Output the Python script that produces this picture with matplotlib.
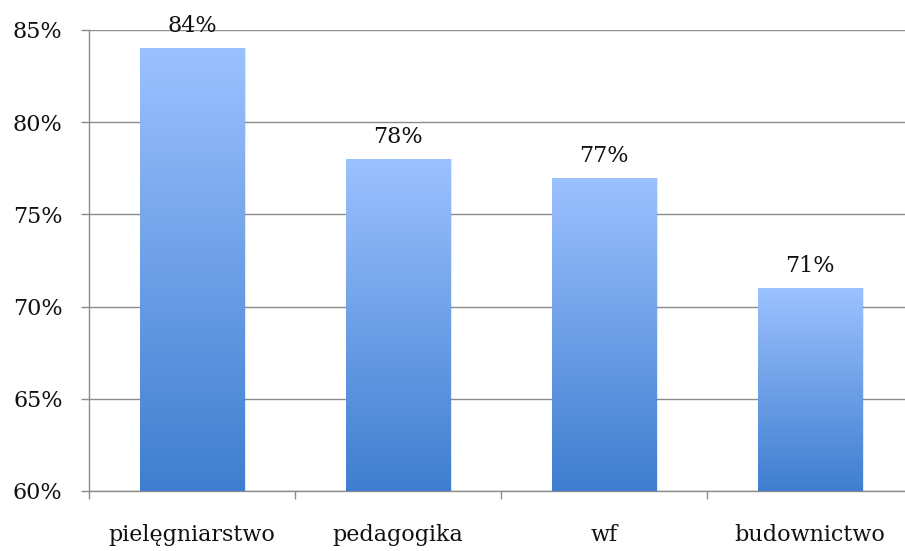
import numpy as np
import matplotlib
matplotlib.use("Agg")
import matplotlib.pyplot as plt
from matplotlib.colors import LinearSegmentedColormap
from matplotlib.ticker import FixedLocator

categories = ["pielęgniarstwo", "pedagogika", "wf", "budownictwo"]
values = [84, 78, 77, 71]
y_ticks = [60, 65, 70, 75, 80, 85]
y_tick_labels = ["60%", "65%", "70%", "75%", "80%", "85%"]

plt.rcParams["font.family"] = ["DejaVu Serif"]
FS = 16

W, H = 905, 551
fig = plt.figure(figsize=(W / 100, H / 100), dpi=100)
ax = fig.add_axes([89 / W, 1 - 491 / H, 824 / W, 461 / H])

x = np.arange(len(categories))
ymin, ymax = 60, 85

grad = LinearSegmentedColormap.from_list("bar", ["#3f7ecf", "#9cc1ff"])
gradient = np.linspace(0, 1, 256).reshape(-1, 1)

bars = ax.bar(x, [v - ymin for v in values], bottom=ymin, width=0.505,
              color="none", edgecolor="none", zorder=3)
for rect, v in zip(bars, values):
    x0, w = rect.get_x(), rect.get_width()
    # soft shadow along the right edge
    for i, a in enumerate([0.10, 0.06, 0.03]):
        ax.add_patch(plt.Rectangle((x0 + w, ymin), 0.004 * (i + 1), v - ymin,
                                   facecolor="#000000", alpha=a,
                                   edgecolor="none", zorder=2.5))
    im = ax.imshow(gradient, cmap=grad, origin="lower", aspect="auto",
                   extent=(x0, x0 + w, ymin, v), zorder=3,
                   interpolation="bilinear")
    im.set_clip_path(rect)
    ax.annotate(f"{v}%", (x0 + w / 2, v), xytext=(0, 11.5),
                textcoords="offset points", ha="center", va="baseline",
                fontsize=FS, color="#111111", zorder=4)

ax.set_xlim(-0.5, len(categories) - 0.5)
ax.set_ylim(ymin, ymax)

ax.set_yticks(y_ticks)
ax.set_yticklabels(y_tick_labels, fontsize=FS, color="#111111")
ax.yaxis.grid(True, color="#8c8c8c", linewidth=1.0, zorder=0)
ax.set_axisbelow(True)

ax.set_xticks(x)
ax.set_xticklabels(categories, fontsize=FS, color="#111111")
ax.xaxis.set_minor_locator(FixedLocator(np.arange(-0.5, len(categories), 1.0)))
ax.tick_params(axis="x", which="major", length=0, pad=24)
ax.tick_params(axis="x", which="minor", length=6, width=1.0, color="#8c8c8c",
               direction="out")
ax.tick_params(axis="y", length=6, width=1.0, color="#8c8c8c",
               direction="out", pad=13)

for side in ("top", "right"):
    ax.spines[side].set_visible(False)
for side in ("left", "bottom"):
    ax.spines[side].set_color("#8c8c8c")
    ax.spines[side].set_linewidth(1.0)

fig.savefig("out.png", dpi=100)
